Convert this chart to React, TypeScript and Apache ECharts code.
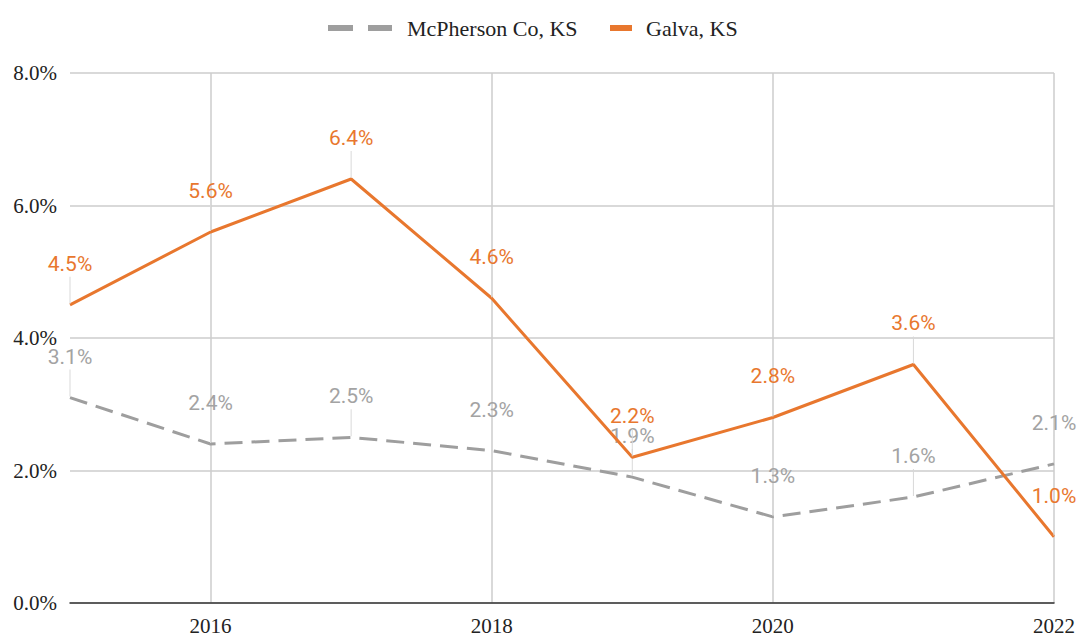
import React, { useEffect, useRef } from "react";
import * as echarts from "echarts";

const years = ["2015", "2016", "2017", "2018", "2019", "2020", "2021", "2022"];
const mcpherson = [3.1, 2.4, 2.5, 2.3, 1.9, 1.3, 1.6, 2.1];
const galva = [4.5, 5.6, 6.4, 4.6, 2.2, 2.8, 3.6, 1.0];
const yTicks = [0, 2, 4, 6, 8];

const ORANGE = "#e8772e";
const GRAY = "#9e9e9e";
const GRAY_LABEL = "#a3a3a3";
const SERIF = "'Liberation Serif', 'Times New Roman', serif";
const SANS = "Roboto, 'Noto Sans', sans-serif";

function makeLabel(color: string) {
  return {
    show: true,
    position: "top",
    distance: 1,
    formatter: (p: any) => `{v|${Number(p.value).toFixed(1)}%}\n{l|}`,
    rich: {
      v: { color, fontFamily: SANS, fontSize: 21, lineHeight: 26, align: "center" },
      l: { width: 1, height: 27, backgroundColor: "#d9d9d9", align: "center" },
    },
  };
}

export default function App() {
  const ref = useRef<HTMLDivElement>(null);
  useEffect(() => {
    if (!ref.current) return;
    const chart = echarts.init(ref.current, null, { renderer: "svg" });
    chart.setOption({
      animation: false,
      backgroundColor: "#ffffff",
      legend: [
        {
          data: ["McPherson Co, KS"],
          left: 323,
          top: 12,
          itemWidth: 64,
          itemHeight: 6,
          icon: "path://M0,0H25V6H0Z M40,0H64V6H40Z",
          itemStyle: { color: GRAY, borderWidth: 0 },
          textStyle: { fontFamily: SERIF, fontSize: 22, color: "#222", padding: [0, 0, 0, 10] },
        },
        {
          data: ["Galva, KS"],
          left: 605,
          top: 12,
          itemWidth: 22,
          itemHeight: 6,
          icon: "rect",
          itemStyle: { color: ORANGE, borderWidth: 0 },
          textStyle: { fontFamily: SERIF, fontSize: 22, color: "#222", padding: [0, 0, 0, 9] },
        },
      ],
      grid: { left: 70, right: 27, top: 73, bottom: 36, containLabel: false },
      xAxis: {
        type: "category",
        data: years,
        boundaryGap: false,
        axisLine: { show: true, lineStyle: { color: "#333", width: 1.5 } },
        axisTick: { show: false },
        axisLabel: {
          interval: (i: number) => i % 2 === 1,
          fontFamily: SERIF,
          fontSize: 21,
          color: "#222",
          margin: 12,
        },
        splitLine: {
          show: true,
          interval: (i: number) => i % 2 === 1,
          lineStyle: { color: "#cccccc", width: 1.5 },
        },
      },
      yAxis: {
        type: "value",
        min: yTicks[0],
        max: yTicks[yTicks.length - 1],
        interval: 2,
        axisLine: { show: false },
        axisTick: { show: false },
        axisLabel: {
          formatter: (v: number) => `${v.toFixed(1)}%`,
          fontFamily: SERIF,
          fontSize: 21,
          color: "#222",
          margin: 13,
        },
        splitLine: { lineStyle: { color: "#cccccc", width: 1.5 } },
      },
      series: [
        {
          name: "McPherson Co, KS",
          type: "line",
          data: mcpherson,
          symbol: "circle",
          symbolSize: 0.1,
          showSymbol: true,
          itemStyle: { color: GRAY },
          lineStyle: { color: GRAY, width: 3, type: [18, 9] },
          label: makeLabel(GRAY_LABEL),
          z: 2,
        },
        {
          name: "Galva, KS",
          type: "line",
          data: galva,
          symbol: "circle",
          symbolSize: 0.1,
          showSymbol: true,
          itemStyle: { color: ORANGE },
          lineStyle: { color: ORANGE, width: 3 },
          label: makeLabel(ORANGE),
          z: 3,
        },
      ],
    });
    return () => chart.dispose();
  }, []);
  return (
    <div
      ref={ref}
      style={{ position: "fixed", left: 0, top: 0, width: 1081, height: 639 }}
    />
  );
}
